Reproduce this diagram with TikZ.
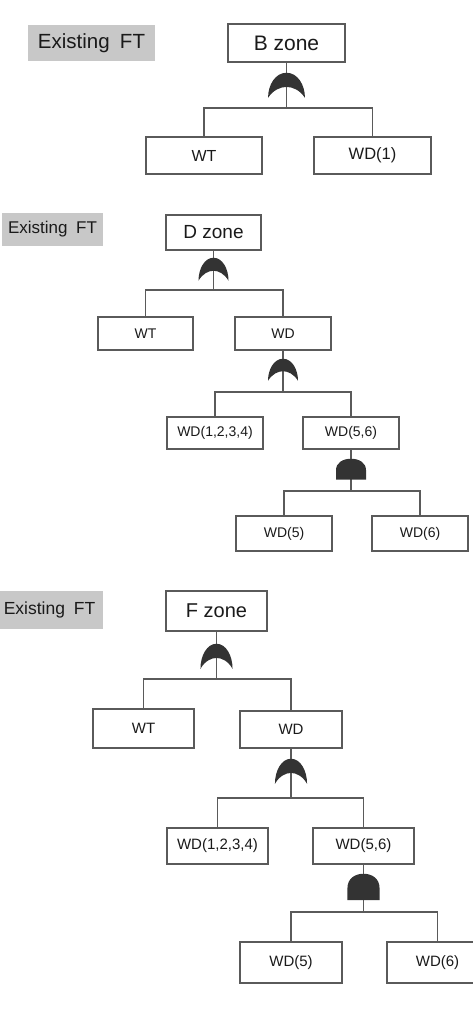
\documentclass[tikz,border=0pt]{standalone}
\usepackage{fontspec}
\setmainfont{Liberation Sans}
\usepackage{tikz}
\usetikzlibrary{calc, positioning}
\newcommand{\fsz}[1]{\fontsize{#1}{#1}\selectfont}
\definecolor{boxline}{HTML}{5A5A5A}
\definecolor{gatefill}{HTML}{333333}
\definecolor{titlegray}{HTML}{C8C8C8}
\definecolor{textgray}{HTML}{1A1A1A}
\tikzset{
  event/.style={draw=boxline, line width=1.5pt, fill=white, text=textgray, inner sep=0pt},
  titlebox/.style={fill=titlegray, text=textgray, inner sep=0pt},
  link/.style={draw=boxline, line width=1.5pt},
  orgate/.pic={
    \fill[gatefill] (0,0) .. controls (-9,0) and (-15,11) .. (-15,23)
      .. controls (-11,16) and (-5,13) .. (0,13)
      .. controls (5,13) and (11,16) .. (15,23)
      .. controls (15,11) and (9,0) .. (0,0) -- cycle;
  },
  andgate/.pic={
    \fill[gatefill] (-15,22) -- (-15,12) .. controls (-15,4) and (-8,0) .. (0,0)
      .. controls (8,0) and (15,4) .. (15,12) -- (15,22) -- cycle;
  }
}
\begin{document}
\begin{tikzpicture}[x=1pt, y=-1pt]
    \useasboundingbox (0,0) rectangle (472,1025);
    % B zone
    \node[titlebox, minimum width=127, minimum height=36, font=\fsz{20.5}] (tb1) at (91.5,43) {Existing\hspace{0.5em}FT};
    \node[event, minimum width=117, minimum height=38, font=\fsz{21}] (bz) at (286.5,43) {B zone};
    \node[event, minimum width=116, minimum height=37, font=\fsz{16}] (wt1) at (204,155.5) {WT};
    \node[event, minimum width=117, minimum height=37, font=\fsz{16.5}] (wd1) at (372.5,155.5) {WD(1)};
    \coordinate (b1) at ($(bz.south)+(0,45)$);
    \draw[link] (bz.south) -- (b1) -| (wt1.north);
    \draw[link] (b1) -| (wd1.north);
    \pic[xscale=1.23, yscale=1.09] at ($(bz.south)+(0,10)$) {orgate};
    % D zone
    \node[titlebox, minimum width=101, minimum height=33, font=\fsz{17}] (tb2) at (52.5,229.5) {Existing\hspace{0.5em}FT};
    \node[event, minimum width=95, minimum height=35, font=\fsz{19}] (dz) at (213.5,232.5) {D zone};
    \node[event, minimum width=95, minimum height=33, font=\fsz{14}] (wt2) at (145.5,333.5) {WT};
    \node[event, minimum width=96, minimum height=33, font=\fsz{14}] (wd2) at (283,333.5) {WD};
    \node[event, minimum width=96, minimum height=32, font=\fsz{14}] (wda2) at (215,433) {WD(1,2,3,4)};
    \node[event, minimum width=96, minimum height=32, font=\fsz{14}] (wdb2) at (351,433) {WD(5,6)};
    \node[event, minimum width=96, minimum height=35, font=\fsz{14}] (wdc2) at (284,533.5) {WD(5)};
    \node[event, minimum width=96, minimum height=35, font=\fsz{14}] (wdd2) at (420,533.5) {WD(6)};
    \coordinate (b2) at ($(dz.south)+(0,39)$);
    \coordinate (b3) at ($(wd2.south)+(0,41)$);
    \coordinate (b4) at ($(wdb2.south)+(0,41)$);
    \draw[link] (dz.south) -- (b2) -| (wt2.north);
    \draw[link] (b2) -| (wd2.north);
    \draw[link] (wd2.south) -- (b3) -| (wda2.north);
    \draw[link] (b3) -| (wdb2.north);
    \draw[link] (wdb2.south) -- (b4) -| (wdc2.north);
    \draw[link] (b4) -| (wdd2.north);
    \pic at ($(dz.south)+(0,7)$) {orgate};
    \pic[yscale=0.96] at ($(wd2.south)+(0,8)$) {orgate};
    \pic[yscale=0.95] at ($(wdb2.south)+(0,9)$) {andgate};
    % F zone
    \node[titlebox, minimum width=107, minimum height=38, font=\fsz{17.5}] (tb3) at (49.5,610) {Existing\hspace{0.5em}FT};
    \node[event, minimum width=101, minimum height=40, font=\fsz{20}] (fz) at (216.5,611) {F zone};
    \node[event, minimum width=101, minimum height=39, font=\fsz{15}] (wt3) at (143.5,728.5) {WT};
    \node[event, minimum width=102, minimum height=37, font=\fsz{15}] (wd3) at (291,729.5) {WD};
    \node[event, minimum width=101, minimum height=36, font=\fsz{15}] (wda3) at (217.5,846) {WD(1,2,3,4)};
    \node[event, minimum width=101, minimum height=36, font=\fsz{15}] (wdb3) at (363.5,846) {WD(5,6)};
    \node[event, minimum width=102, minimum height=41, font=\fsz{15}] (wdc3) at (291,962.5) {WD(5)};
    \node[event, minimum width=101, minimum height=41, font=\fsz{15}] (wdd3) at (437.5,962.5) {WD(6)};
    \coordinate (b5) at ($(fz.south)+(0,47)$);
    \coordinate (b6) at ($(wd3.south)+(0,49)$);
    \coordinate (b7) at ($(wdb3.south)+(0,47)$);
    \draw[link] (fz.south) -- (b5) -| (wt3.north);
    \draw[link] (b5) -| (wd3.north);
    \draw[link] (wd3.south) -- (b6) -| (wda3.north);
    \draw[link] (b6) -| (wdb3.north);
    \draw[link] (wdb3.south) -- (b7) -| (wdc3.north);
    \draw[link] (b7) -| (wdd3.north);
    \pic[xscale=1.07, yscale=1.09] at ($(fz.south)+(0,12)$) {orgate};
    \pic[xscale=1.07, yscale=1.09] at ($(wd3.south)+(0,10)$) {orgate};
    \pic[xscale=1.07, yscale=1.2] at ($(wdb3.south)+(0,9)$) {andgate};
\end{tikzpicture}
\end{document}
